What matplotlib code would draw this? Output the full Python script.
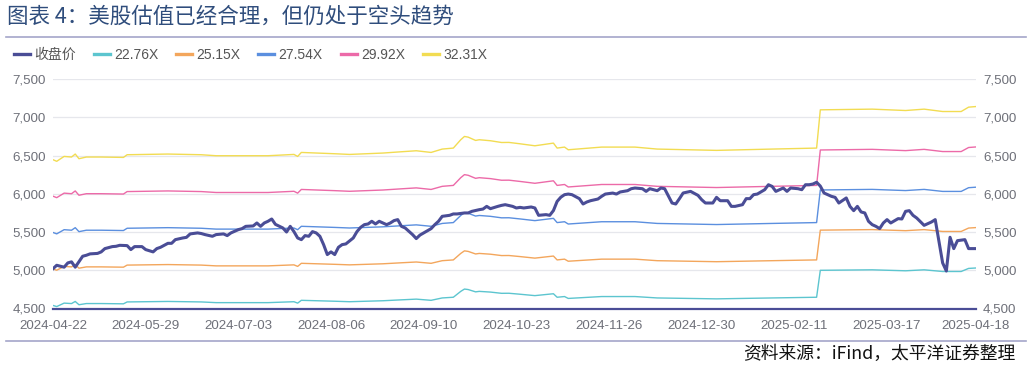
import numpy as np
import matplotlib
matplotlib.use("Agg")
import matplotlib.pyplot as plt
from matplotlib.lines import Line2D
from matplotlib.ticker import StrMethodFormatter

plt.rcParams['font.family'] = ['Liberation Sans', 'Noto Sans CJK SC', 'DejaVu Sans']

# -----------------------
# Data (trading-day index, value)
# -----------------------
tick_pos = [0, 25, 50, 75, 100, 125, 150, 175, 200, 225, 249]
tick_labels = ["2024-04-22", "2024-05-29", "2024-07-03", "2024-08-06", "2024-09-10",
               "2024-10-23", "2024-11-26", "2024-12-30", "2025-02-11", "2025-03-17",
               "2025-04-18"]

close_idx = [0, 1, 3, 4, 5, 6, 8, 9, 10, 12, 13, 14, 16, 17, 18, 20, 21, 22, 24, 25,
             27, 28, 29, 31, 32, 33, 35, 36, 37, 39, 40, 41, 43, 44, 46, 47, 48, 50, 51, 52,
             54, 55, 56, 57, 58, 59, 60, 62, 63, 64, 65, 66, 67, 68, 69, 70, 71, 72, 73, 74,
             75, 76, 77, 78, 79, 81, 82, 83, 84, 85, 86, 87, 88, 90, 91, 92, 93, 94, 95, 96,
             97, 98, 99, 100, 102, 103, 104, 105, 107, 108, 109, 111, 112, 113, 115, 116, 117, 118, 120, 121,
             122, 124, 125, 126, 127, 129, 130, 131, 133, 134, 135, 136, 137, 138, 139, 140, 142, 143, 144, 145,
             147, 148, 149, 151, 152, 153, 155, 156, 157, 159, 160, 161, 163, 164, 165, 167, 168, 169, 170, 172,
             174, 175, 176, 178, 179, 180, 182, 183, 184, 186, 187, 188, 189, 190, 192, 193, 194, 195, 197, 198,
             199, 201, 202, 203, 204, 205, 206, 207, 208, 210, 211, 212, 214, 215, 216, 217, 218, 219, 220, 221,
             222, 223, 224, 225, 226, 228, 229, 230, 231, 232, 233, 235, 237, 238, 239, 240, 241, 242, 243, 244,
             246, 247, 249]
close_val = [5020, 5065, 5040, 5096, 5110, 5040, 5183, 5196, 5214, 5220, 5240, 5283, 5309, 5313, 5326, 5322, 5270, 5309, 5309, 5270,
             5240, 5283, 5300, 5352, 5352, 5400, 5422, 5430, 5475, 5488, 5480, 5466, 5444, 5466, 5475, 5453, 5488, 5531, 5544, 5574,
             5579, 5618, 5574, 5618, 5640, 5670, 5600, 5553, 5500, 5574, 5505, 5422, 5400, 5453, 5444, 5505, 5488, 5444, 5335, 5205,
             5240, 5205, 5300, 5335, 5344, 5422, 5505, 5561, 5596, 5605, 5640, 5605, 5640, 5596, 5618, 5649, 5662, 5574, 5553, 5509,
             5466, 5414, 5460, 5488, 5544, 5596, 5640, 5705, 5718, 5736, 5736, 5749, 5749, 5770, 5792, 5800, 5835, 5805, 5835, 5848,
             5857, 5835, 5814, 5822, 5814, 5827, 5814, 5718, 5727, 5718, 5780, 5900, 5955, 5988, 5996, 5988, 5936, 5866, 5892, 5909,
             5931, 5966, 5996, 6009, 5996, 6023, 6040, 6066, 6075, 6066, 6031, 6066, 6040, 6075, 6066, 5879, 5866, 5936, 6010, 6031,
             5979, 5922, 5879, 5879, 5953, 5909, 5909, 5835, 5835, 5857, 5936, 5936, 5988, 5996, 6053, 6118, 6096, 6031, 6075, 6031,
             6075, 6066, 6053, 6118, 6118, 6127, 6150, 6100, 6010, 5966, 5953, 5879, 5945, 5835, 5779, 5835, 5762, 5749, 5640, 5596,
             5574, 5544, 5618, 5662, 5618, 5675, 5670, 5770, 5779, 5718, 5683, 5587, 5631, 5662, 5379, 5096, 4990, 5431, 5283, 5387,
             5400, 5283, 5283]

# 32.31X band; the other bands share its EPS
top_idx = [0, 1, 3, 5, 6, 7, 9, 13, 19, 20, 31, 40, 44, 58, 65, 66, 67, 76, 80, 89,
           94, 98, 102, 105, 108, 110, 111, 112, 114, 115, 118, 121, 123, 126, 130, 135, 136, 138, 139, 148,
           157, 163, 179, 194, 206, 207, 221, 230, 235, 240, 245, 247, 249]
top_val = [6445, 6424, 6488, 6480, 6519, 6458, 6480, 6480, 6475, 6510, 6519, 6510, 6497, 6497, 6514, 6488, 6540, 6523, 6514, 6532,
           6549, 6562, 6540, 6584, 6597, 6706, 6749, 6740, 6697, 6706, 6693, 6670, 6671, 6653, 6627, 6662, 6597, 6610, 6575, 6610,
           6610, 6584, 6567, 6584, 6597, 7097, 7106, 7088, 7106, 7075, 7075, 7132, 7140]

multiples = [22.76, 25.15, 27.54, 29.92, 32.31]
band_names = ["22.76X", "25.15X", "27.54X", "29.92X", "32.31X"]
band_colors = ["#5cc5cf", "#f3a65c", "#5b8fdf", "#ec6aa8", "#f2dc52"]
close_color = "#4a4d96"

eps = np.array(top_val) / multiples[-1]

# -----------------------
# Figure
# -----------------------
W, H = 1032, 368
fig = plt.figure(figsize=(W / 100, H / 100), dpi=100)
ax = fig.add_axes([53 / W, 1 - 308.5 / H, (976 - 53) / W, (308.5 - 79) / H])

for m, name, c in zip(multiples, band_names, band_colors):
    ax.plot(top_idx, m * eps, color=c, lw=1.0, label=name, zorder=2)
ax.plot(close_idx, close_val, color=close_color, lw=2.2, label="收盘价", zorder=3)

ax.set_xlim(0, 249)
ax.set_ylim(4500, 7500)
ax.set_yticks([4500, 5000, 5500, 6000, 6500, 7000, 7500])
ax.yaxis.set_major_formatter(StrMethodFormatter("{x:,.0f}"))
ax.set_xticks(tick_pos)
ax.set_xticklabels(tick_labels)
ax.grid(axis="y", color="#e6e7ec", lw=0.9, zorder=0)
ax.tick_params(axis="both", length=0, colors="#6e7079", labelsize=9.6)
ax.tick_params(axis="x", pad=8)
ax.tick_params(axis="y", pad=5, labelright=True)
for s in ["top", "left", "right"]:
    ax.spines[s].set_visible(False)
ax.spines["bottom"].set_color(close_color)
ax.spines["bottom"].set_linewidth(1.6)

# legend
handles, labels = ax.get_legend_handles_labels()
order = [5, 0, 1, 2, 3, 4]
leg = fig.legend([Line2D([], [], color=handles[i].get_color(), lw=2.4) for i in order],
                 [labels[i] for i in order],
                 loc="center left", bbox_to_anchor=(14 / W, 1 - 55 / H), ncol=6,
                 frameon=False, fontsize=10, handlelength=1.15, handletextpad=0.3,
                 columnspacing=1.3, borderpad=0, borderaxespad=0)
for t in leg.get_texts():
    t.set_color("#555555")

# title, separators, source
fig.text(7 / W, 1 - 17 / H, "图表 4：美股估值已经合理，但仍处于空头趋势",
         fontsize=15.5, color="#2f4d7c", va="center", ha="left",
         family=["Noto Sans CJK SC", "DejaVu Sans"])
fig.add_artist(Line2D([6 / W, 1026 / W], [1 - 37 / H] * 2, transform=fig.transFigure,
                      color="#a4a6c9", lw=1.2))
fig.add_artist(Line2D([6 / W, 1026 / W], [1 - 341 / H] * 2, transform=fig.transFigure,
                      color="#a4a6c9", lw=1.2))
fig.text(1015 / W, 1 - 354 / H, "资料来源：iFind，太平洋证券整理", fontsize=12.8,
         color="#111111", va="center", ha="right",
         family=["Noto Sans CJK SC", "DejaVu Sans"])

fig.savefig("out.png", dpi=100)
